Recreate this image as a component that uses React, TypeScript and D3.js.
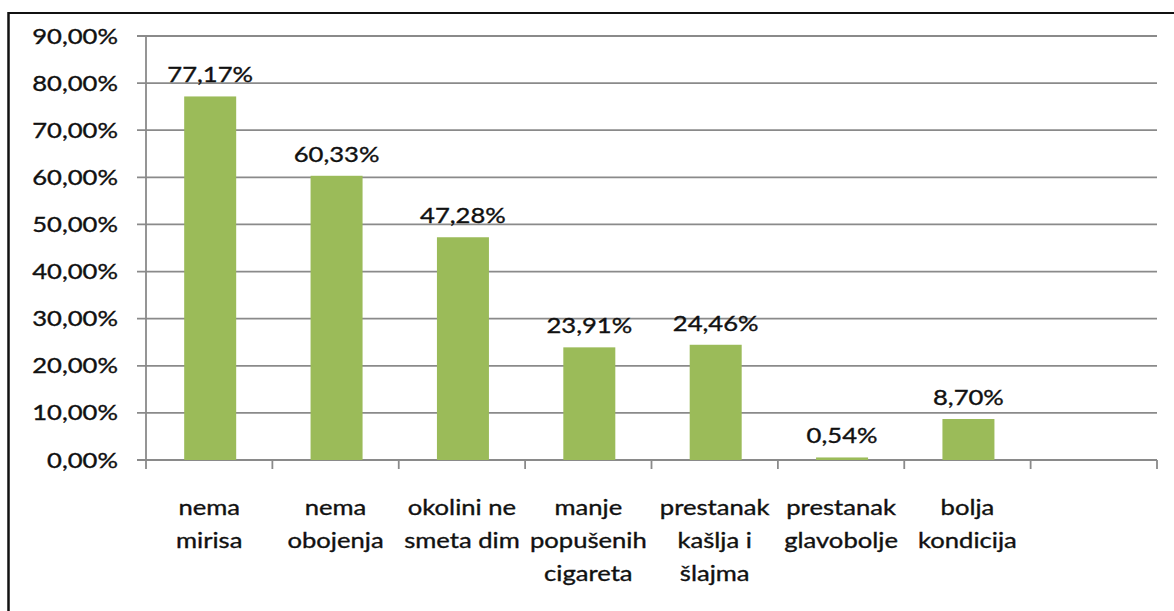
import React, { useEffect, useRef } from "react";
import * as d3 from "d3";

// data
const categories = [
  "nema\nmirisa",
  "nema\nobojenja",
  "okolini ne\nsmeta dim",
  "manje\npopušenih\ncigareta",
  "prestanak\nkašlja i\nšlajma",
  "prestanak\nglavobolje",
  "bolja\nkondicija",
  "",
];
const values: (number | null)[] = [77.17, 60.33, 47.28, 23.91, 24.46, 0.54, 8.7, null];
const yTicks = [0, 10, 20, 30, 40, 50, 60, 70, 80, 90];

const fmt = (v: number) => v.toFixed(2).replace(".", ",") + "%";

export default function App() {
  const ref = useRef<SVGSVGElement>(null);

  useEffect(() => {
    const svg = d3.select(ref.current);
    svg.selectAll("*").remove();

    const left = 146, right = 1157, top = 36, bottom = 460;
    const font = "Lato, 'Open Sans', sans-serif";
    const sx = 1.22; // text in the picture is stretched sideways

    const x = d3.scaleBand<string>()
      .domain(categories.map((c, i) => String(i)))
      .range([left, right]);
    const y = d3.scaleLinear().domain([0, 90]).range([bottom, top]);

    // outer frame (only top and left visible)
    svg.append("line").attr("x1", 8.5).attr("x2", 1174).attr("y1", 13).attr("y2", 13)
      .attr("stroke", "#111").attr("stroke-width", 2.2);
    svg.append("line").attr("x1", 8.5).attr("x2", 8.5).attr("y1", 12).attr("y2", 611)
      .attr("stroke", "#111").attr("stroke-width", 2.5);

    const grid = "#8a8a8a";

    const addText = (sel: any) =>
      sel.attr("font-family", font)
        .attr("font-size", 21)
        .attr("fill", "#111")
        .attr("stroke", "#111")
        .attr("stroke-width", 0.35);

    // gridlines + y ticks
    const yg = svg.append("g");
    yg.selectAll("line.grid")
      .data(yTicks)
      .enter()
      .append("line")
      .attr("x1", left - 9)
      .attr("x2", right)
      .attr("y1", d => y(d))
      .attr("y2", d => y(d))
      .attr("stroke", grid)
      .attr("stroke-width", 1.8);

    yg.selectAll("text")
      .data(yTicks)
      .enter()
      .append("text")
      .attr("transform", d => `translate(118, ${y(d) + 7.5}) scale(${sx},1)`)
      .attr("text-anchor", "end")
      .call(addText)
      .text(d => fmt(d));

    // y axis
    svg.append("line").attr("x1", left).attr("x2", left).attr("y1", top).attr("y2", bottom)
      .attr("stroke", grid).attr("stroke-width", 1.8);

    // x tick marks at band edges
    const edges = categories.map((c, i) => x(String(i)) as number).concat([right]);
    svg.selectAll("line.xt")
      .data(edges)
      .enter()
      .append("line")
      .attr("x1", d => d)
      .attr("x2", d => d)
      .attr("y1", bottom)
      .attr("y2", bottom + 9)
      .attr("stroke", grid)
      .attr("stroke-width", 1.8);

    // bars
    const barW = 52;
    const bw = x.bandwidth();
    const bars = values
      .map((v, i) => ({ v, i }))
      .filter(d => d.v !== null) as { v: number; i: number }[];

    svg.selectAll("rect.bar")
      .data(bars)
      .enter()
      .append("rect")
      .attr("x", d => (x(String(d.i)) as number) + bw / 2 - barW / 2 + 1)
      .attr("y", d => y(d.v))
      .attr("width", barW)
      .attr("height", d => bottom - y(d.v))
      .attr("fill", "#9bbb59");

    // value labels
    svg.selectAll("text.val")
      .data(bars)
      .enter()
      .append("text")
      .attr("transform", d => `translate(${(x(String(d.i)) as number) + bw / 2 + 1}, ${y(d.v) - 14}) scale(${sx},1)`)
      .attr("text-anchor", "middle")
      .call(addText)
      .text(d => fmt(d.v));

    // category labels
    categories.forEach((c, i) => {
      const cx = (x(String(i)) as number) + bw / 2;
      c.split("\n").forEach((line, j) => {
        if (!line) return;
        svg.append("text")
          .attr("transform", `translate(${cx}, ${515 + j * 33}) scale(${sx},1)`)
          .attr("text-anchor", "middle")
          .call(addText)
          .text(line);
      });
    });
  }, []);

  return (
    <svg
      ref={ref}
      width={1174}
      height={611}
      style={{ position: "absolute", left: 0, top: 0, background: "#fff" }}
    />
  );
}
